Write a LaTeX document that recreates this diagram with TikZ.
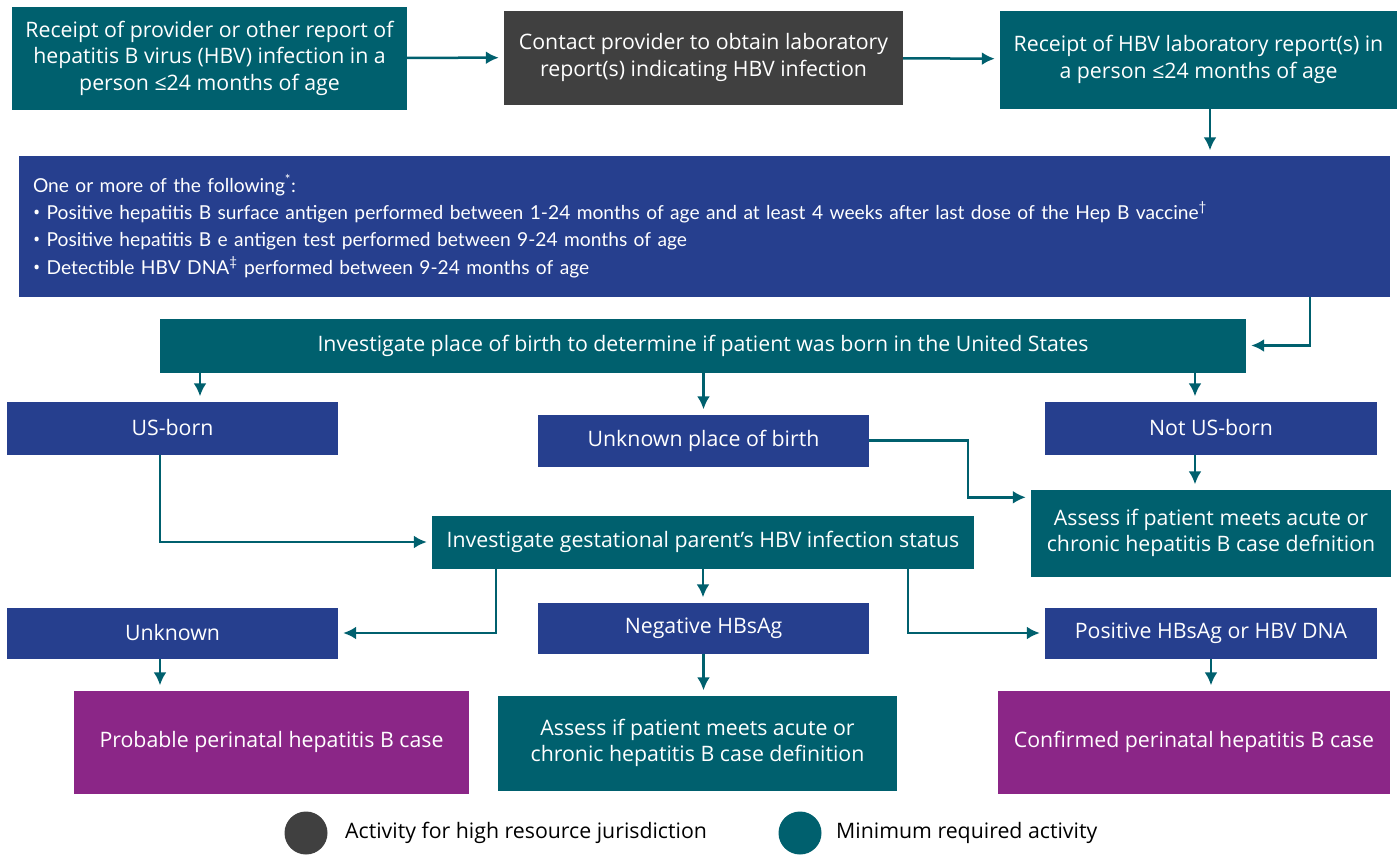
\documentclass[tikz,border=0pt]{standalone}
\usepackage{fontspec}
\setmainfont{Open Sans}
\newfontfamily\critfont{Lato}
\newfontfamily\dotfont{Open Sans}
\usetikzlibrary{arrows.meta, calc, positioning}
\definecolor{hbteal}{RGB}{0,96,110}
\definecolor{hbgray}{RGB}{64,64,64}
\definecolor{hbblue}{RGB}{38,63,142}
\definecolor{hbpurple}{RGB}{139,38,135}
\newcommand{\critdot}{{\dotfont\textbullet}\ }
\begin{document}
\begin{tikzpicture}[x=1pt, y=-1pt, >={Latex[length=13pt,width=13pt]},
  box/.style={rectangle, text=white, align=center, inner sep=0pt, font=\fontsize{21.3}{26.5}\selectfont},
  tealbox/.style={box, fill=hbteal},
  graybox/.style={box, fill=hbgray},
  bluebox/.style={box, fill=hbblue},
  purplebox/.style={box, fill=hbpurple},
  link/.style={->, hbteal, line width=2.5pt, shorten >=5pt},
  legend/.style={font=\fontsize{21.3}{24}\selectfont, anchor=west, inner sep=0pt}]
\useasboundingbox (0,0) rectangle (1397,854);
\node[tealbox, minimum width=395, minimum height=103] (rep) at (209.5,58) {Receipt of provider or other report of\\hepatitis B virus (HBV) infection in a\\person ≤24 months of age};
\node[graybox, minimum width=399, minimum height=94] (contact) at (703.5,57.5) {Contact provider to obtain laboratory\\report(s) indicating HBV infection};
\node[tealbox, minimum width=397, minimum height=98] (lab) at (1198.5,59.5) {Receipt of HBV laboratory report(s) in\\a person ≤24 months of age};
\node[bluebox, minimum width=1371, minimum height=141, align=left, text width=1343, font=\critfont\fontsize{19.2}{27.3}\selectfont] (crit) at (704.5,226) {One or more of the following\textsuperscript{*}:\\
\critdot Positive hepatitis B surface antigen performed between 1-24 months of age and at least 4 weeks after last dose of the Hep B vaccine\textsuperscript{†}\\
\critdot Positive hepatitis B e antigen test performed between 9-24 months of age\\
\critdot Detectible HBV DNA\textsuperscript{‡} performed between 9-24 months of age};
\node[tealbox, minimum width=1086, minimum height=54] (inv) at (703,345.5) {Investigate place of birth to determine if patient was born in the United States};
\node[bluebox, minimum width=331, minimum height=53] (us) at (172.5,428) {US-born};
\node[bluebox, minimum width=331, minimum height=52] (unk) at (703.5,440.5) {Unknown place of birth};
\node[bluebox, minimum width=332, minimum height=53] (notus) at (1211,428) {Not US-born};
\node[tealbox, minimum width=360, minimum height=87] (assess1) at (1211,533) {Assess if patient meets acute or\\chronic hepatitis B case defnition};
\node[tealbox, minimum width=542, minimum height=53] (gest) at (703,542) {Investigate gestational parent’s HBV infection status};
\node[bluebox, minimum width=331, minimum height=51] (unkn) at (172.5,633) {Unknown};
\node[bluebox, minimum width=331, minimum height=51] (neg) at (703.5,628) {Negative HBsAg};
\node[bluebox, minimum width=332, minimum height=51] (pos) at (1211,633) {Positive HBsAg or HBV DNA};
\node[purplebox, minimum width=395, minimum height=103] (prob) at (271.5,742) {Probable perinatal hepatitis B case};
\node[tealbox, minimum width=399, minimum height=95] (assess2) at (697.5,743) {Assess if patient meets acute or\\chronic hepatitis B case definition};
\node[purplebox, minimum width=392, minimum height=103] (conf) at (1194,742) {Confirmed perinatal hepatitis B case};
\draw[link] (rep) -- (contact);
\draw[link] (contact) -- (lab);
\draw[link] ([xshift=11.5]lab.south) -- ([xshift=11.5]lab.south |- crit.north);
\draw[link] ([xshift=605.5]crit.south) |- (inv.east);
\draw[link] ([xshift=27.5]us.north |- inv.south) -- ([xshift=27.5]us.north);
\draw[link] (inv.south -| unk.north) -- (unk.north);
\draw[link] ([xshift=-16]notus.north |- inv.south) -- ([xshift=-16]notus.north);
\draw[link] (unk.east) -| ([xshift=-63,yshift=-8]assess1.north west) -- ([yshift=-8]assess1.north west);
\draw[link] ([xshift=-16]notus.south) -- ([xshift=-16]assess1.north);
\draw[link] ([xshift=-12.5]us.south) |- (gest.west);
\draw[link] ([xshift=-207]gest.south) |- (unkn.east);
\draw[link] (gest.south) -- (gest.south |- neg.north);
\draw[link] ([xshift=205]gest.south) |- (pos.west);
\draw[link] ([xshift=-12.5]unkn.south) -- ([xshift=-12.5]unkn.south |- prob.north);
\draw[link] (neg.south) -- (neg.south |- assess2.north);
\draw[link] (pos.south) -- (pos.south |- conf.north);
\node[circle, fill=hbgray, minimum size=43, inner sep=0pt] (darkdot) at (306,833) {};
\node[legend] (darktext) at (345,833) {Activity for high resource jurisdiction};
\node[circle, fill=hbteal, minimum size=43, inner sep=0pt] (tealdot) at (800,833) {};
\node[legend] (tealtext) at (836,833) {Minimum required activity};
\end{tikzpicture}
\end{document}
